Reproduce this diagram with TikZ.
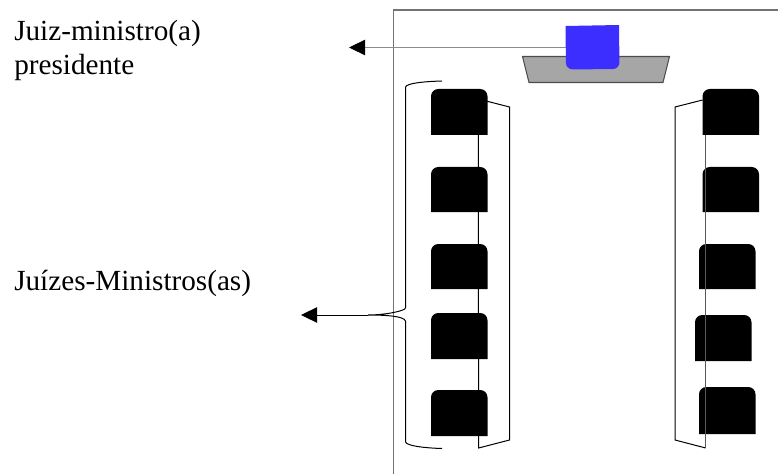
\documentclass[tikz,border=0pt]{standalone}
\usepackage{fontspec}
\setmainfont{Liberation Serif}
\usetikzlibrary{arrows.meta}
\definecolor{deskfill}{HTML}{A6A6A6}
\definecolor{bluechair}{HTML}{3B2EFF}
\tikzset{
  x=0.75pt,y=-0.75pt,
  label text/.style={anchor=base west,inner sep=0pt,font=\fontsize{21.9pt}{26pt}\selectfont},
  thin ink/.style={line width=0.75pt,black},
  frame line/.style={line width=0.8pt,color=black!55},
  pointer/.style={-{Triangle[length=12pt,width=11.5pt,black]},line width=0.75pt}
}
\newcommand{\seat}[3]{\path[fill=black] (#1,#3) [rounded corners=5.5pt] -- (#1,#2) -- (#1+56.5,#2) [sharp corners] -- (#1+56.5,#3) -- cycle;}
\begin{document}
\begin{tikzpicture}
\useasboundingbox (0,0) rectangle (778,474);
% frame
\draw[frame line] (393.5,474) -- (393.5,10) -- (778,10);
% texts
\node[label text] (presA) at (14,40.5) {Juiz-ministro(a)};
\node[label text] (presB) at (14,75) {presidente};
\node[label text] (juizes) at (14,290) {Juízes-Ministros(as)};
% president pointer
\coordinate (presFrom) at (566,47.5);
\coordinate (presTo) at (349,47.5);
\draw[pointer,draw=black!45] (presFrom) -- (presTo);
% desk
\draw[fill=deskfill,draw=black!70,line width=0.8pt] (522.5,56.5) -- (669.5,56.5) -- (663,82.5) -- (529,82.5) -- cycle;
% president chair
\path[fill=bluechair] (565.5,26) -- (619,25) [rounded corners=5pt] -- (619.5,69) -- (566,69.5) [sharp corners] -- cycle;
% left chairs
\seat{431}{89}{135}
\seat{431}{167}{212}
\seat{431}{244}{289}
\seat{431}{313}{359}
\seat{431}{390}{436}
% right chairs
\seat{702.5}{89}{135}
\seat{702.5}{167}{212}
\seat{699}{244}{289}
\seat{695}{315}{361}
\seat{699}{387}{434}
% left bracket
\draw[thin ink] (478.3,99) -- (509.5,107) -- (509.5,440) -- (478.6,448) -- cycle;
% right bracket
\draw[thin ink] (702.6,100) -- (675,107) -- (675,440) -- (705.7,448);
\draw[line width=0.9pt,black!65] (705.7,448) -- (705.7,135);
% brace
\coordinate (braceTip) at (368,315);
\coordinate (braceArrow) at (301,315);
\draw[thin ink] (442,81) .. controls (425,81.5) and (407,83) .. (405.5,87) -- (405.5,308) .. controls (405,311) and (385,315) .. (braceTip)
  .. controls (385,315) and (404,316) .. (405.5,321) -- (405.5,442) .. controls (407,446) and (425,448) .. (442,448.5);
\draw[pointer] (braceTip) -- (braceArrow);
\end{tikzpicture}
\end{document}
